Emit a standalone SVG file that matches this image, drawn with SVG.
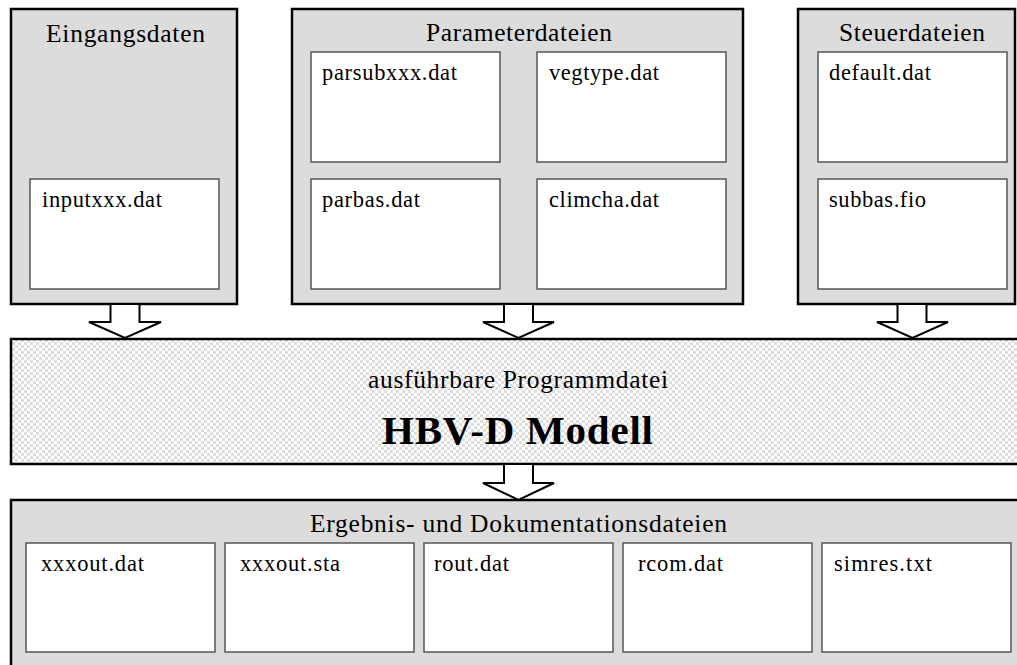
<svg xmlns="http://www.w3.org/2000/svg" width="1017" height="665" viewBox="0 0 1017 665">
  <defs>
    <pattern id="checker" x="0" y="0" width="6" height="6" patternUnits="userSpaceOnUse">
      <rect x="0" y="0" width="6" height="6" fill="#ffffff"/>
      <rect x="0" y="0" width="3" height="3" fill="#dedede"/>
      <rect x="3" y="3" width="3" height="3" fill="#dedede"/>
    </pattern>
  </defs>
  <style>
    .outer { fill: #dcdcdc; stroke: #000000; stroke-width: 2.5; }
    .inner { fill: #ffffff; stroke: #555555; stroke-width: 1.5; }
    .main { fill: url(#checker); stroke: #000000; stroke-width: 2.5; }
    .arrow { fill: #ffffff; stroke: #000000; stroke-width: 2; stroke-linejoin: miter; }
    .title { font-family: "Liberation Serif", "Times New Roman", serif; font-size: 25.5px; fill: #000000; }
    .label { font-family: "Liberation Serif", "Times New Roman", serif; font-size: 22.5px; fill: #000000; }
    .big { font-family: "Liberation Serif", "Times New Roman", serif; font-size: 41px; font-weight: bold; fill: #000000; }
  </style>
  <rect x="0" y="0" width="1017" height="665" fill="#ffffff"/>

  <g id="eingangsdaten">
    <rect class="outer" x="11" y="9" width="226" height="295"/>
    <text class="title" x="46" y="42" textLength="159" lengthAdjust="spacing">Eingangsdaten</text>
    <g id="inputxxx">
      <rect class="inner" x="30" y="179" width="189" height="110"/>
      <text class="label" x="42" y="207" textLength="120" lengthAdjust="spacing">inputxxx.dat</text>
    </g>
  </g>

  <g id="parameterdateien">
    <rect class="outer" x="292" y="9" width="451" height="295"/>
    <text class="title" x="426" y="41" textLength="186" lengthAdjust="spacing">Parameterdateien</text>
    <g id="parsubxxx">
      <rect class="inner" x="311" y="52" width="189" height="110"/>
      <text class="label" x="322" y="80" textLength="135" lengthAdjust="spacing">parsubxxx.dat</text>
    </g>
    <g id="vegtype">
      <rect class="inner" x="537" y="52" width="189" height="110"/>
      <text class="label" x="549" y="80" textLength="110" lengthAdjust="spacing">vegtype.dat</text>
    </g>
    <g id="parbas">
      <rect class="inner" x="311" y="179" width="189" height="110"/>
      <text class="label" x="322" y="207" textLength="98" lengthAdjust="spacing">parbas.dat</text>
    </g>
    <g id="climcha">
      <rect class="inner" x="537" y="179" width="189" height="110"/>
      <text class="label" x="549" y="207" textLength="110" lengthAdjust="spacing">climcha.dat</text>
    </g>
  </g>

  <g id="steuerdateien">
    <rect class="outer" x="798" y="9" width="217" height="295"/>
    <text class="title" x="839" y="41" textLength="146" lengthAdjust="spacing">Steuerdateien</text>
    <g id="default">
      <rect class="inner" x="818" y="52" width="189" height="110"/>
      <text class="label" x="829" y="80" textLength="102" lengthAdjust="spacing">default.dat</text>
    </g>
    <g id="subbas">
      <rect class="inner" x="818" y="179" width="189" height="110"/>
      <text class="label" x="829" y="207" textLength="97" lengthAdjust="spacing">subbas.fio</text>
    </g>
  </g>

  <g id="modell">
    <rect class="main" x="11" y="339" width="1020" height="125"/>
    <text class="title" x="368" y="388" textLength="300" lengthAdjust="spacing">ausführbare Programmdatei</text>
    <text class="big" x="382" y="444" textLength="271" lengthAdjust="spacing">HBV-D Modell</text>
  </g>

  <g id="ergebnis">
    <rect class="outer" x="11" y="500" width="1020" height="200"/>
    <text class="title" x="310" y="532" textLength="417" lengthAdjust="spacing">Ergebnis- und Dokumentationsdateien</text>
    <g id="xxxoutdat">
      <rect class="inner" x="26" y="543" width="189" height="109"/>
      <text class="label" x="41" y="571" textLength="103" lengthAdjust="spacing">xxxout.dat</text>
    </g>
    <g id="xxxoutsta">
      <rect class="inner" x="225" y="543" width="189" height="109"/>
      <text class="label" x="240" y="571" textLength="100" lengthAdjust="spacing">xxxout.sta</text>
    </g>
    <g id="rout">
      <rect class="inner" x="424" y="543" width="189" height="109"/>
      <text class="label" x="434" y="571" textLength="75" lengthAdjust="spacing">rout.dat</text>
    </g>
    <g id="rcom">
      <rect class="inner" x="623" y="543" width="189" height="109"/>
      <text class="label" x="638" y="571" textLength="85" lengthAdjust="spacing">rcom.dat</text>
    </g>
    <g id="simres">
      <rect class="inner" x="822" y="543" width="189" height="109"/>
      <text class="label" x="834" y="571" textLength="98" lengthAdjust="spacing">simres.txt</text>
    </g>
  </g>

  <g id="connectors">
    <path class="arrow" d="M110.5,304 L139.5,304 L139.5,322 L161,322 L125,338 L89,322 L110.5,322 Z"/>
    <path class="arrow" d="M504,304 L533,304 L533,322 L554,322 L518.5,338 L483,322 L504,322 Z"/>
    <path class="arrow" d="M897.5,304 L926.5,304 L926.5,322 L948,322 L912.5,338 L877,322 L897.5,322 Z"/>
    <path class="arrow" d="M504,464 L533,464 L533,483 L554,483 L518.5,500 L483,483 L504,483 Z"/>
  </g>
</svg>
